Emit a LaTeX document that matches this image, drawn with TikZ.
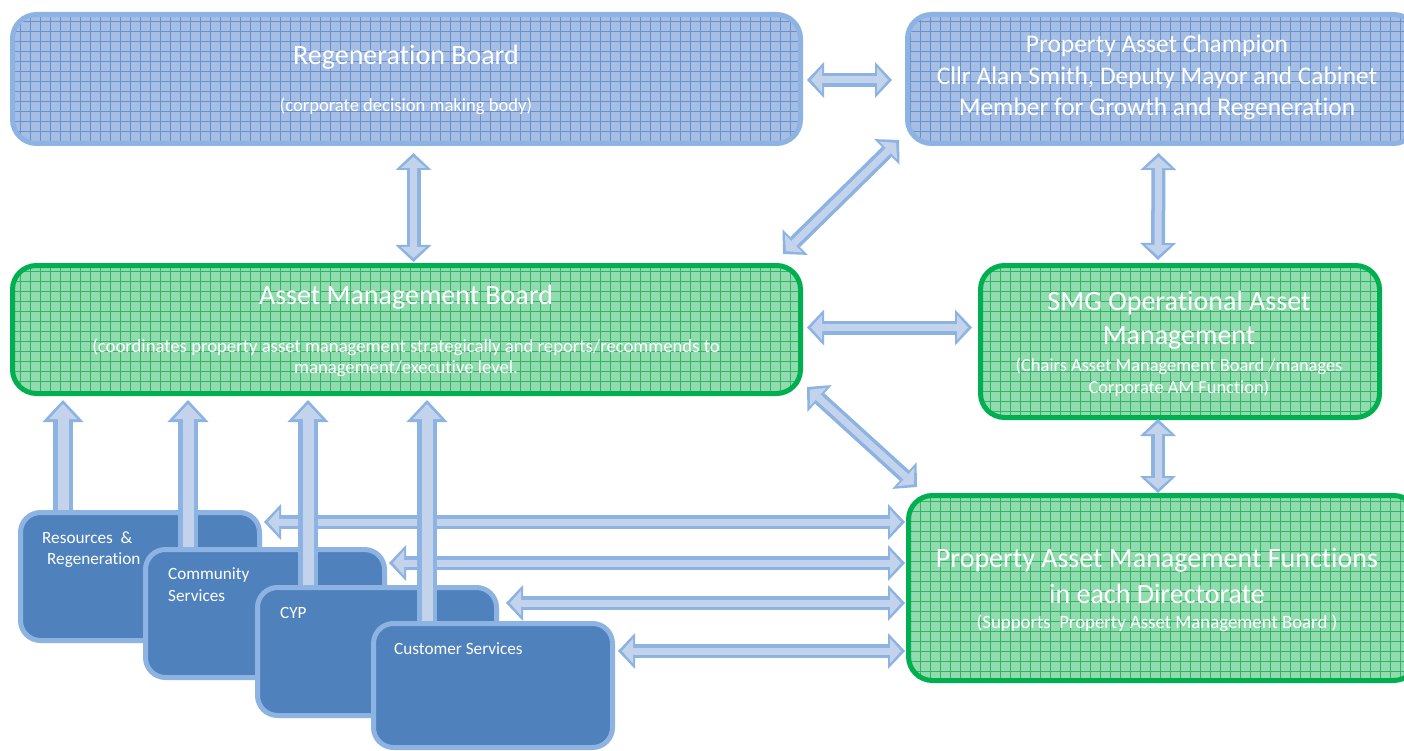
\documentclass[tikz,border=0pt]{standalone}
\usepackage{fontspec}
\setmainfont{Carlito}[Ligatures=NoCommon]
\usetikzlibrary{arrows.meta,calc,patterns.meta}

\definecolor{edgeblue}{HTML}{8DB3E2}
\definecolor{fillblue}{HTML}{A6BEE3}
\definecolor{gridblue}{HTML}{6592CE}
\definecolor{edgegreen}{HTML}{00B050}
\definecolor{fillgreen}{HTML}{92DBAE}
\definecolor{gridgreen}{HTML}{2FB566}
\definecolor{darkblue}{HTML}{4F81BD}
\definecolor{arrowedge}{HTML}{8DB3E2}
\definecolor{arrowfill}{HTML}{C3D3EC}

\newcommand\sizept[1]{\fontsize{#1}{#1}\selectfont}

% double-headed and single-headed block arrows, drawn as outline + lighter core
\newcommand\twoway[3]{%
  \draw[ao#1,<->] #2 -- #3;
  \draw[ai#1,<->,shorten <=4pt,shorten >=4pt] #2 -- #3;}
\newcommand\oneway[3]{%
  \draw[ao#1,->] #2 -- #3;
  \draw[ai#1,->,shorten >=4pt] #2 -- #3;}

\tikzset{
  aoS/.style={draw=arrowedge,line width=14pt,
    >={Triangle[width=36pt,length=17pt,line width=0pt]}},
  aiS/.style={draw=arrowfill,line width=7pt,
    >={Triangle[width=25pt,length=11pt,line width=0pt]}},
  aoB/.style={draw=arrowedge,line width=20pt,
    >={Triangle[width=41pt,length=22pt,line width=0pt]}},
  aiB/.style={draw=arrowfill,line width=11pt,
    >={Triangle[width=28pt,length=15pt,line width=0pt]}},
  bluebox/.style={rectangle,rounded corners=24pt,draw=edgeblue,line width=5pt,
    preaction={fill=fillblue},
    preaction={pattern={Hatch[angle=0,distance=10pt,line width=0.7pt]},pattern color=gridblue}},
  greenbox/.style={rectangle,rounded corners=24pt,draw=edgegreen,line width=5pt,
    preaction={fill=fillgreen},
    preaction={pattern={Hatch[angle=0,distance=10pt,line width=0.7pt]},pattern color=gridgreen}},
  unitbox/.style={rectangle,rounded corners=20pt,draw=edgeblue,line width=5pt,fill=darkblue,
    minimum width=239pt,minimum height=128pt},
  wt/.style={text=white,inner sep=0pt},
}

\begin{document}
\begin{tikzpicture}[x=1pt,y=-1pt]
\useasboundingbox (0,0) rectangle (1404,751);

% ---- top row ----
\node[bluebox,minimum width=788pt,minimum height=129pt] (reg) at (406.5,79) {};
\node[bluebox,minimum width=510pt,minimum height=129pt] (champ) at (1162.5,79) {};
\node[wt,font=\sizept{28}] (regT) at (406,57) {Regeneration Board};
\node[wt,font=\sizept{18.6}] (regS) at (406,106) {(corporate decision making body)};
\node[wt,font=\sizept{25.4}] (champA) at (1157,46) {Property Asset Champion};
\node[wt,font=\sizept{25.4}] (champB) at (1157,78) {Cllr Alan Smith, Deputy Mayor and Cabinet};
\node[wt,font=\sizept{25.4}] (champC) at (1157,109) {Member for Growth and Regeneration};

% ---- middle row ----
\node[greenbox,minimum width=788pt,minimum height=128pt] (amb) at (406.5,329.5) {};
\node[greenbox,minimum width=399pt,minimum height=152pt] (smg) at (1180,341.5) {};
\node[wt,font=\sizept{28}] (ambT) at (406,297) {Asset Management Board};
\node[wt,font=\sizept{18.7}] (ambA) at (406,347) {(coordinates property asset management strategically and reports/recommends to};
\node[wt,font=\sizept{18.7}] (ambB) at (406,369) {management/executive level.};
\node[wt,font=\sizept{28}] (smgA) at (1179,303) {SMG Operational Asset};
\node[wt,font=\sizept{28}] (smgB) at (1179,338) {Management};
\node[wt,font=\sizept{18.4}] (smgC) at (1179,366) {(Chairs Asset Management Board /manages};
\node[wt,font=\sizept{18.4}] (smgD) at (1179,388) {Corporate AM Function)};

% ---- directorate functions ----
\node[greenbox,minimum width=509pt,minimum height=185pt] (pamf) at (1163,588) {};
\node[wt,font=\sizept{28}] (pamfA) at (1157,560) {Property Asset Management Functions};
\node[wt,font=\sizept{28}] (pamfB) at (1157,594) {in each Directorate};
\node[wt,font=\sizept{18.8}] (pamfC) at (1157,623) {(Supports\ \ Property Asset Management Board )};

% ---- directorates (stacked) ----
\node[unitbox] (res) at (140,576.5) {};
\node[unitbox] (com) at (265,613.5) {};
\node[unitbox] (cyp) at (377,651.5) {};
\node[unitbox,minimum height=124pt] (cus) at (493,685.5) {};
\node[wt,font=\sizept{17.2},anchor=west] (resA) at (42,538) {Resources\ \ \&};
\node[wt,font=\sizept{17.2},anchor=west] (resB) at (47,560) {Regeneration};
\node[wt,font=\sizept{17.2},anchor=west] (comA) at (168,575) {Community};
\node[wt,font=\sizept{17.2},anchor=west] (comB) at (168,596) {Services};
\node[wt,font=\sizept{17.2},anchor=west] (cypA) at (280,613) {CYP};
\node[wt,font=\sizept{17.2},anchor=west] (cusA) at (394,649) {Customer Services};

% ---- connectors between boards ----
\twoway{S}{($(reg.east)+(4,1)$)}{($(champ.west)+(-13,1)$)}
\twoway{S}{($(reg.south)+(7,7)$)}{($(amb.north)+(7,-1)$)}
\twoway{S}{($(champ.south west)+(-6,-6)$)}{($(amb.north east)+(-20,-9)$)}
\twoway{S}{($(champ.south)+(-4,7)$)}{($(smg.north)+(-22,-3)$)}
\twoway{S}{($(amb.east)+(4,-2)$)}{($(smg.west)+(-6,-14)$)}
\twoway{S}{($(amb.south east)+(4,-9)$)}{($(pamf.north west)+(11,-6)$)}
\twoway{S}{($(smg.south)+(-22,-1)$)}{($(pamf.north)+(-5,0)$)}

% ---- directorates to directorate functions ----
\twoway{S}{($(res.north east)+(2,12)$)}{($(pamf.west)+(-1,-66)$)}
\twoway{S}{($(com.north east)+(2,16)$)}{($(pamf.west)+(-1,-25)$)}
\twoway{S}{($(cyp.north east)+(7,18)$)}{($(pamf.west)+(-1,15)$)}
\twoway{S}{($(cus.north east)+(3,30)$)}{($(pamf.west)+(-1,63)$)}

% ---- directorates reporting up to the board ----
\oneway{B}{($(res.north)+(-77,0)$)}{($(amb.south west)+(53,4)$)}
\oneway{B}{($(com.north)+(-77,0)$)}{($(amb.south west)+(178,4)$)}
\oneway{B}{($(cyp.north)+(-69,0)$)}{($(amb.south west)+(298,4)$)}
\oneway{B}{($(cus.north)+(-66,0)$)}{($(amb.south west)+(417,4)$)}
\end{tikzpicture}
\end{document}
